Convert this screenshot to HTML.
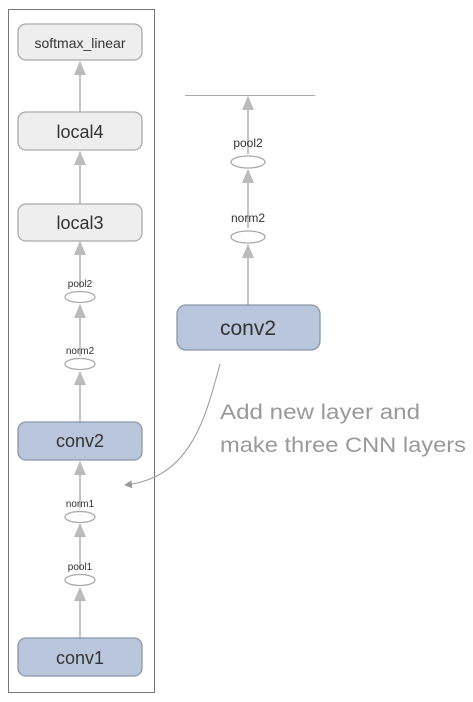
<!DOCTYPE html><html><head><style>body{margin:0;background:#fff;width:473px;height:697px;overflow:hidden}</style></head><body>
<svg width="473" height="697" xmlns="http://www.w3.org/2000/svg" font-family="Liberation Sans, sans-serif">
<defs><marker id="g" markerWidth="8" markerHeight="8" refX="7" refY="4" orient="auto" markerUnits="userSpaceOnUse"><path d="M0,0 L8,4 L0,8 Z" fill="#999"/></marker></defs>
<rect x="8.5" y="9.5" width="146" height="683" fill="none" stroke="#777" stroke-width="1"/>
<g stroke="#c4c4c4" stroke-width="2">
<line x1="80" y1="638" x2="80" y2="589"/><line x1="80" y1="570" x2="80" y2="525"/><line x1="80" y1="508" x2="80" y2="462"/>
<line x1="80" y1="422" x2="80" y2="372"/><line x1="80" y1="356" x2="80" y2="305"/><line x1="80" y1="288" x2="80" y2="242"/>
<line x1="80" y1="204" x2="80" y2="152"/><line x1="80" y1="112" x2="80" y2="62"/>
<line x1="248" y1="305" x2="248" y2="245"/><line x1="248" y1="228" x2="248" y2="170"/><line x1="248" y1="154" x2="248" y2="97"/>
</g>
<g fill="#bbb">
<path d="M80,587 l-6,14 h12z"/><path d="M80,523 l-6,14 h12z"/><path d="M80,461 l-6,14 h12z"/><path d="M80,371 l-6,14 h12z"/><path d="M80,304 l-6,14 h12z"/><path d="M80,241 l-6,14 h12z"/><path d="M80,151 l-6,14 h12z"/><path d="M80,61 l-6,14 h12z"/>
<path d="M248,244 l-6,14 h12z"/><path d="M248,169 l-6,14 h12z"/><path d="M248,96 l-6,14 h12z"/>
</g>
<line x1="185" y1="95.5" x2="315" y2="95.5" stroke="#aaa"/>
<g stroke="#aaa" stroke-width="1.3" fill="#fff">
<rect x="18" y="24" width="124" height="36" rx="8" fill="#eee"/>
<rect x="18" y="112" width="124" height="38" rx="8" fill="#eee"/>
<rect x="18" y="204" width="124" height="37" rx="8" fill="#eee"/>
<rect x="18" y="422" width="124" height="38" rx="8" fill="#b9c6db" stroke="#8a96aa"/>
<rect x="18" y="638" width="124" height="38" rx="8" fill="#b9c6db" stroke="#8a96aa"/>
<rect x="177" y="305" width="143" height="45" rx="9" fill="#b9c6db" stroke="#8a96aa"/>
<ellipse cx="80" cy="297" rx="15" ry="5.5"/><ellipse cx="80" cy="364" rx="15" ry="5.5"/>
<ellipse cx="80" cy="517" rx="15" ry="5.5"/><ellipse cx="80" cy="580" rx="15" ry="5.5"/>
<ellipse cx="248" cy="162" rx="17" ry="6"/><ellipse cx="248" cy="237" rx="17" ry="6"/>
</g>
<g fill="#333" text-anchor="middle">
<text x="80" y="48" font-size="14">softmax_linear</text>
<text x="80" y="138" font-size="18">local4</text>
<text x="80" y="229" font-size="18">local3</text>
<text x="80" y="447" font-size="18">conv2</text>
<text x="80" y="664" font-size="18">conv1</text>
<text x="248" y="335" font-size="21">conv2</text>
<g font-size="10"><text x="80" y="287">pool2</text><text x="80" y="354">norm2</text><text x="80" y="507">norm1</text><text x="80" y="570">pool1</text>
<text x="248" y="147" font-size="12">pool2</text><text x="248" y="222" font-size="12">norm2</text></g>
</g>
<path d="M220,364 C205,420 190,478 125,485" fill="none" stroke="#999" stroke-width="1" marker-end="url(#g)"/>
<g fill="#999" font-size="21"><text x="220" y="419" textLength="200" lengthAdjust="spacingAndGlyphs">Add new layer and</text><text x="220" y="452" textLength="246" lengthAdjust="spacingAndGlyphs">make three CNN layers</text></g>
</svg></body></html>
